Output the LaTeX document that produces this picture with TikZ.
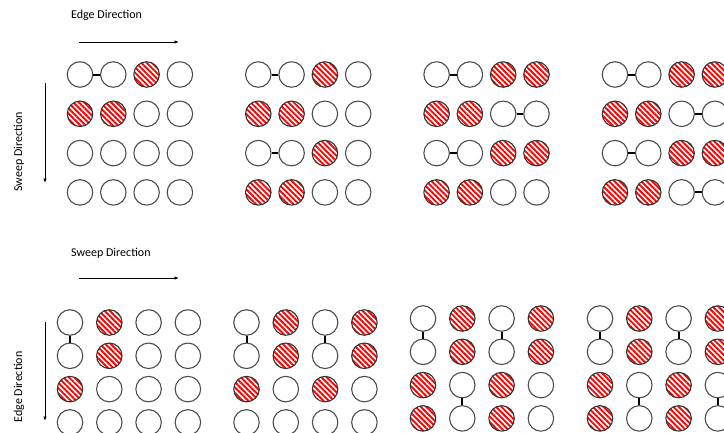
\documentclass[tikz,border=0pt]{standalone}
\usepackage{fontspec}
\setmainfont{Carlito}
\usetikzlibrary{arrows.meta,patterns.meta}
\tikzset{
  cell/.style={circle,draw=black!70,line width=1.1pt,inner sep=0pt,minimum size=25.5pt},
  cellO/.style={cell},
  cellH/.style={cell,draw=black!80,pattern={Lines[angle=-45,distance=3.8pt,line width=1.9pt]},pattern color=red},
  bond/.style={line width=2pt,black},
  dirarrow/.style={-{Latex[length=4.5pt,width=3.5pt]},line width=0.9pt},
  dirlabel/.style={font=\fontsize{12}{14}\selectfont,inner sep=0pt},
}
% #1 name, #2 x of first column, #3 y of first row, #4 column step, #5 row step, #6 rows
\newcommand{\cellgrid}[6]{%
  \foreach \cells [count=\r] in {#6} {
    \foreach \k [count=\c] in \cells {
      \node[cell\k] (#1-\r-\c) at ({#2+(\c-1)*#4},{#3+(\r-1)*#5}) {};
    }
  }%
}

\begin{document}
\begin{tikzpicture}[x=1pt,y=-1pt]
\useasboundingbox (0,0) rectangle (724,432);

% upper half: edges along the rows
\node[dirlabel,anchor=west] (edgeTop) at (71,15) {Edge Direction};
\coordinate (edgeTopA) at (79,42);
\coordinate (edgeTopB) at (179,42);
\draw[dirarrow] (edgeTopA) -- (edgeTopB);
\node[dirlabel,rotate=90] (sweepLeft) at (19,152) {Sweep Direction};
\coordinate (sweepLeftA) at (45,83);
\coordinate (sweepLeftB) at (45,183);
\draw[dirarrow] (sweepLeftA) -- (sweepLeftB);

\cellgrid{t1}{80}{74.5}{33.3}{39.3}{{O,O,H,O},{H,H,O,O},{O,O,O,O},{O,O,O,O}}
\cellgrid{t2}{258.3}{74.5}{33.3}{39.3}{{O,O,H,O},{H,H,O,O},{O,O,H,O},{H,H,O,O}}
\cellgrid{t3}{436.6}{74.5}{33.3}{39.3}{{O,O,H,H},{H,H,O,O},{O,O,H,H},{H,H,O,O}}
\cellgrid{t4}{615}{74.5}{33.3}{39.3}{{O,O,H,H},{H,H,O,O},{O,O,H,H},{H,H,O,O}}

\draw[bond] (t1-1-1) -- (t1-1-2);
\draw[bond] (t2-1-1) -- (t2-1-2);
\draw[bond] (t2-3-1) -- (t2-3-2);
\draw[bond] (t3-1-1) -- (t3-1-2);
\draw[bond] (t3-2-3) -- (t3-2-4);
\draw[bond] (t3-3-1) -- (t3-3-2);
\draw[bond] (t4-1-1) -- (t4-1-2);
\draw[bond] (t4-2-3) -- (t4-2-4);
\draw[bond] (t4-3-1) -- (t4-3-2);
\draw[bond] (t4-4-3) -- (t4-4-4);

% lower half: edges along the columns
\node[dirlabel,anchor=west] (sweepTop) at (71,253) {Sweep Direction};
\coordinate (sweepTopA) at (79,278);
\coordinate (sweepTopB) at (179,278);
\draw[dirarrow] (sweepTopA) -- (sweepTopB);
\node[dirlabel,rotate=90] (edgeLeft) at (19,387) {Edge Direction};
\coordinate (edgeLeftA) at (45,322);
\coordinate (edgeLeftB) at (45,421);
\draw[dirarrow] (edgeLeftA) -- (edgeLeftB);

\cellgrid{b1}{70}{322.5}{39.3}{33.3}{{O,H,O,O},{O,H,O,O},{H,O,O,O},{O,O,O,O}}
\cellgrid{b2}{246.5}{322.5}{39.3}{33.3}{{O,H,O,H},{O,H,O,H},{H,O,H,O},{O,O,O,O}}
\cellgrid{b3}{423}{318.5}{39.3}{33.3}{{O,H,O,H},{O,H,O,H},{H,O,H,O},{H,O,H,O}}
\cellgrid{b4}{600}{318.5}{39.3}{33.3}{{O,H,O,H},{O,H,O,H},{H,O,H,O},{H,O,H,O}}

\draw[bond] (b1-1-1) -- (b1-2-1);
\draw[bond] (b2-1-1) -- (b2-2-1);
\draw[bond] (b2-1-3) -- (b2-2-3);
\draw[bond] (b3-1-1) -- (b3-2-1);
\draw[bond] (b3-3-2) -- (b3-4-2);
\draw[bond] (b3-1-3) -- (b3-2-3);
\draw[bond] (b4-1-1) -- (b4-2-1);
\draw[bond] (b4-3-2) -- (b4-4-2);
\draw[bond] (b4-1-3) -- (b4-2-3);
\draw[bond] (b4-3-4) -- (b4-4-4);
\end{tikzpicture}
\end{document}
